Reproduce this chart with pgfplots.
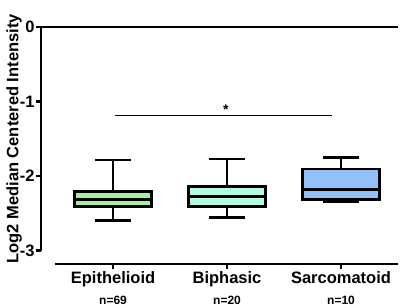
\documentclass[border=0pt]{standalone}
\usepackage{fontspec}
\setmainfont{Liberation Sans}
\usepackage{pgfplots}
\pgfplotsset{compat=1.18}
\usepgfplotslibrary{statistics}
\definecolor{cEpi}{RGB}{164,240,160}
\definecolor{cBi}{RGB}{180,250,224}
\definecolor{cSar}{RGB}{146,192,248}
\begin{document}
\begin{tikzpicture}
\path[use as bounding box] (-41pt,-43pt) rectangle (362pt,264pt);
\begin{axis}[
  scale only axis,
  width=357pt, height=237pt,
  xmin=0.368, xmax=3.5,
  ymin=-3.18, ymax=0,
  axis line style={draw=none},
  clip=false,
  tick align=outside,
  xtick pos=bottom, ytick pos=left,
  major tick length=5pt,
  every tick/.style={black, line width=2.6pt},
  ytick={0,-1,-2,-3},
  yticklabels={0,-1,-2,-3},
  yticklabel style={font=\bfseries\fontsize{16.5}{16.5}\selectfont, xshift=2pt},
  xtick={1,2,3},
  xticklabels={{Epithelioid\\[4.5pt]{\fontsize{12}{12}\selectfont n=69}},
               {Biphasic\\[4.5pt]{\fontsize{12}{12}\selectfont n=20}},
               {Sarcomatoid\\[4.5pt]{\fontsize{12}{12}\selectfont n=10}}},
  xticklabel style={font=\bfseries\fontsize{16.5}{16.5}\selectfont, align=center, yshift=1pt},
  ylabel={Log2 Median Centered Intensity},
  ylabel style={font=\bfseries\fontsize{16.5}{16.5}\selectfont, at={(ticklabel cs:0.528)}, yshift=-9pt},
  boxplot/draw direction=y,
]
% axis lines
\draw[line width=2.8pt] (axis cs:0.368,0) -- (axis cs:0.368,-3);
\draw[line width=2.8pt] (axis cs:0.49,-3.18) -- (axis cs:3.5,-3.18);
\draw[line width=2.2pt] (axis cs:0.368,0) -- (axis cs:3.5,0);
\addplot+[boxplot prepared={lower whisker=-2.60, lower quartile=-2.405, median=-2.31, upper quartile=-2.21, upper whisker=-1.785, draw position=1, box extend=0.68, whisker extend=0.31},
  draw=black, fill=cEpi, line width=2.8pt, solid, mark=none, boxplot/every whisker/.style={line width=2.8pt}, boxplot/every median/.style={line width=2.8pt}] coordinates {};
\addplot+[boxplot prepared={lower whisker=-2.56, lower quartile=-2.41, median=-2.27, upper quartile=-2.14, upper whisker=-1.77, draw position=2, box extend=0.68, whisker extend=0.31},
  draw=black, fill=cBi, line width=2.8pt, solid, mark=none, boxplot/every whisker/.style={line width=2.8pt}, boxplot/every median/.style={line width=2.8pt}] coordinates {};
\addplot+[boxplot prepared={lower whisker=-2.345, lower quartile=-2.31, median=-2.18, upper quartile=-1.906, upper whisker=-1.754, draw position=3, box extend=0.68, whisker extend=0.31},
  draw=black, fill=cSar, line width=2.8pt, solid, mark=none, boxplot/every whisker/.style={line width=2.8pt}, boxplot/every median/.style={line width=2.8pt}] coordinates {};
% significance bar
\addplot[black, line width=1.5pt, mark=none] coordinates {(1.02,-1.19) (2.92,-1.19)};
\node[font=\bfseries\fontsize{14}{14}\selectfont, anchor=south, inner sep=1pt] at (axis cs:1.99,-1.19) {*};
\end{axis}
\end{tikzpicture}
\end{document}
